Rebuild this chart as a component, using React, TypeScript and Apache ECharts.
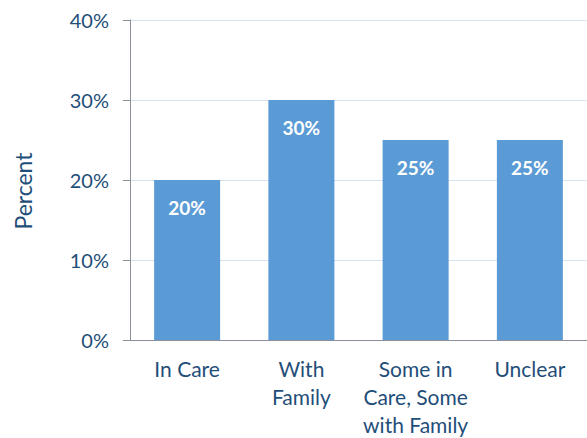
import React, { useEffect, useRef } from "react";
import * as echarts from "echarts";

const categories = ["In Care", "With\nFamily", "Some in\nCare, Some\nwith Family", "Unclear"];
const values = [20, 30, 25, 25];
const yTicks = { min: 0, max: 40, interval: 10 };
const yTitle = "Percent";

export default function App() {
  const ref = useRef<HTMLDivElement>(null);
  useEffect(() => {
    const chart = echarts.init(ref.current!, undefined, { renderer: "svg" });
    const font = "Lato, 'Open Sans', sans-serif";
    chart.setOption({
      animation: false,
      textStyle: { fontFamily: font },
      grid: { left: 130, right: 0, top: 20, bottom: 98, containLabel: false, outerBoundsMode: "none" },
      graphic: [
        {
          type: "text",
          x: 23,
          y: 191,
          rotation: Math.PI / 2,
          style: {
            text: yTitle,
            fill: "#1f4e79",
            fontSize: 23,
            fontFamily: font,
            textAlign: "center",
            textVerticalAlign: "middle",
          },
        },
      ],
      xAxis: {
        type: "category",
        data: categories,
        axisLine: { show: true, lineStyle: { color: "#8a9099", width: 1 } },
        axisTick: { show: false },
        axisLabel: { color: "#1f4e79", fontSize: 21, lineHeight: 28, margin: 14, fontFamily: font, interval: 0 },
      },
      yAxis: {
        type: "value",
        min: yTicks.min,
        max: yTicks.max,
        interval: yTicks.interval,
        axisLine: { show: true, lineStyle: { color: "#8a9099", width: 1 } },
        axisTick: { show: true, length: 7, lineStyle: { color: "#8a9099" } },
        axisLabel: { color: "#1f4e79", fontSize: 20, margin: 21, formatter: "{value}%", fontFamily: font },
        splitLine: { show: true, lineStyle: { color: "#d5e3f1", width: 1 } },
      },
      series: [
        {
          type: "bar",
          data: values,
          barWidth: 66,
          itemStyle: { color: "#5b9bd5" },
          label: {
            show: true,
            position: "insideTop",
            distance: 18,
            formatter: "{c}%",
            color: "#ffffff",
            fontWeight: "bold",
            fontSize: 19,
            fontFamily: font,
          },
        },
      ],
    });
    return () => chart.dispose();
  }, []);
  return <div ref={ref} style={{ width: 587, height: 438, position: "absolute", left: 0, top: 0 }} />;
}
